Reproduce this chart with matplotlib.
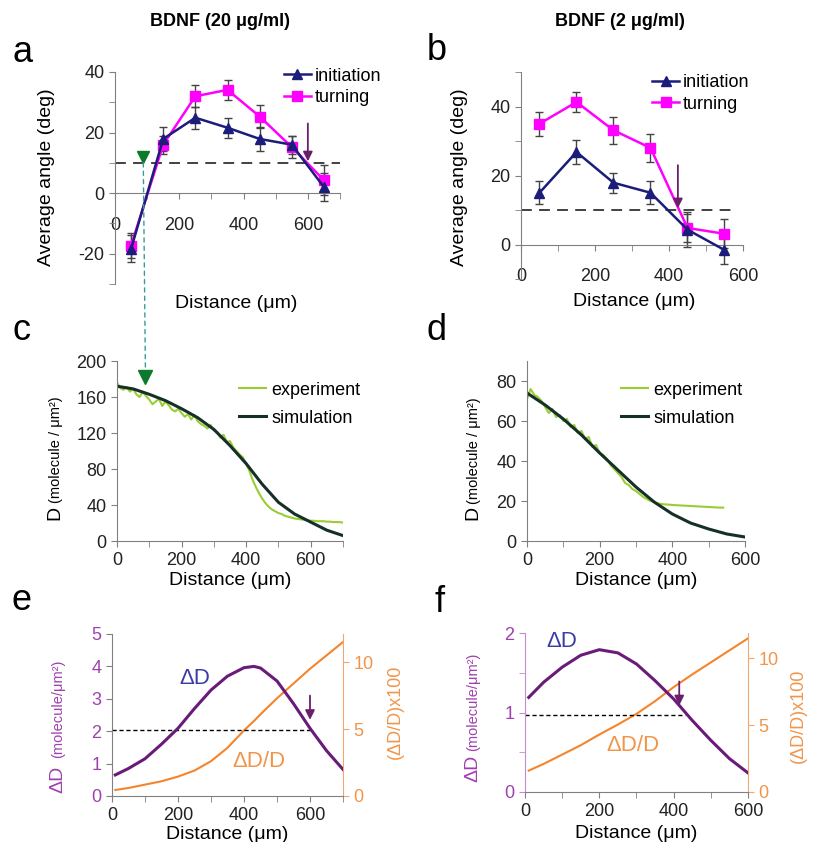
import matplotlib.pyplot as plt
from matplotlib.patches import ConnectionPatch

plt.rcParams['font.family'] = ['Liberation Sans', 'DejaVu Sans']
plt.rcParams['font.size'] = 13
plt.rcParams['axes.unicode_minus'] = False

# ---- panel a / b : average turning angle per distance bin ----
bins_a = [50, 150, 250, 350, 450, 550, 650]
init_a = [-18.4, 17.9, 24.9, 21.6, 17.9, 16.0, 2.0]
init_a_err = [4.5, 4.0, 3.7, 3.3, 3.9, 3.0, 4.5]
turn_a = [-17.3, 16.0, 32.0, 34.1, 25.3, 15.2, 4.3]
turn_a_err = [4.0, 3.0, 3.7, 3.2, 3.9, 3.6, 5.0]

bins_b = [50, 150, 250, 350, 450, 550]
init_b = [15.0, 26.8, 17.9, 15.0, 4.3, -1.6]
init_b_err = [3.4, 3.5, 2.9, 3.4, 5.0, 4.0]
turn_b = [35.0, 41.3, 33.1, 28.0, 4.8, 3.1]
turn_b_err = [3.5, 2.9, 4.0, 4.0, 4.0, 4.2]

threshold_angle = 10
start_x = 88          # green triangle (start of turning)
arrow_a = 600
arrow_b = 424

# ---- panel c / d : concentration profiles ----
exp_c_x = list(range(0, 701, 10))
exp_c = [176, 170, 168, 171, 166, 169, 163, 160, 166, 161,
         157, 152, 155, 158, 150, 155, 151, 146, 144, 147,
         142, 138, 141, 135, 140, 133, 130, 128, 125, 129,
         123, 121, 115, 118, 110, 111, 104, 100, 96, 93,
         86, 78, 68, 60, 53, 47, 42, 38, 35, 33,
         31, 30, 28, 27, 26, 25, 24.5, 24, 23.5, 23,
         22.5, 22.5, 22, 22, 22, 21.5, 21.5, 21, 21, 21, 20.5]
sim_c_x = [0, 50, 100, 150, 200, 250, 300, 350, 400, 450, 500, 550, 600, 650, 700]
sim_c = [172, 169, 163, 156, 147, 137, 124, 106, 86, 63, 43, 30, 21, 12, 6]

exp_d_x = list(range(0, 541, 10))
exp_d = [71, 76, 73, 72, 70, 67, 64, 66, 62, 63,
         60, 61, 57, 58, 54, 55, 51, 52, 47, 48,
         44, 43, 41, 38, 36, 34, 32, 29, 28, 26,
         25, 23.5, 22, 21, 20, 19.5, 18.8, 18.5, 18.3, 18.2,
         18, 17.9, 17.8, 17.7, 17.6, 17.5, 17.4, 17.3, 17.2, 17.1,
         17, 16.9, 16.8, 16.7, 16.7]
sim_d_x = [0, 50, 100, 150, 200, 250, 300, 350, 400, 450, 500, 550, 600]
sim_d = [74, 68, 61, 53, 44, 35.5, 27, 19.5, 13.5, 9, 6, 3.5, 2]

# ---- panel e / f : gradient ----
dist_e = [10, 50, 100, 150, 200, 250, 300, 350, 400, 430, 450, 500, 550, 600, 650, 700]
dD_e = [0.65, 0.85, 1.15, 1.6, 2.09, 2.7, 3.27, 3.7, 3.96, 4.0, 3.95, 3.55, 2.85, 2.09, 1.4, 0.82]
rel_e = [0.45, 0.6, 0.85, 1.1, 1.45, 1.9, 2.6, 3.6, 4.9, 5.6, 6.1, 7.3, 8.4, 9.5, 10.5, 11.5]

dist_f = [10, 50, 100, 150, 200, 250, 300, 350, 400, 450, 500, 550, 600]
dD_f = [1.19, 1.38, 1.57, 1.72, 1.79, 1.75, 1.61, 1.40, 1.17, 0.9, 0.65, 0.42, 0.24]
rel_f = [1.6, 2.1, 2.8, 3.5, 4.3, 5.05, 5.85, 6.8, 7.85, 8.8, 9.7, 10.6, 11.5]

dD_threshold_e = 2.05
dD_threshold_f = 0.97
arrow_e = 600
arrow_f = 415

navy = '#1c1c7a'
magenta = '#ff00ff'
green = '#0b7a2a'
arrow_col = '#6a1f6a'
exp_col = '#9acd32'
sim_col = '#15302a'
purple = '#6a1b7a'
purple_lt = '#a040b0'
orange = '#f5842a'
orange_lt = '#f0954a'
grey = '#808080'

W, H = 820, 842
fig = plt.figure(figsize=(W / 100, H / 100), dpi=100)


def box(l, r, t, b):
    return [l / W, 1 - b / H, (r - l) / W, (b - t) / H]


def style(ax):
    ax.spines['top'].set_visible(False)
    ax.spines['right'].set_visible(False)
    for s in ['left', 'bottom']:
        ax.spines[s].set_color(grey)
    ax.tick_params(which='both', colors=grey, labelcolor='#222222', length=4, labelsize=13)


ax_a = fig.add_axes(box(115, 340, 72, 284))
ax_b = fig.add_axes(box(521, 743, 72, 279))
ax_c = fig.add_axes(box(117, 343, 361, 541))
ax_d = fig.add_axes(box(527, 745, 361, 541))
ax_e = fig.add_axes(box(112, 343, 634, 796))
ax_f = fig.add_axes(box(525, 748, 633, 792))

# a and b
for ax, bins, ini, ini_e, trn, trn_e, xmax, ylim, arr, anchor in [
        (ax_a, bins_a, init_a, init_a_err, turn_a, turn_a_err, 700, (-30, 40), arrow_a, (0.75, 1.02)),
        (ax_b, bins_b, init_b, init_b_err, turn_b, turn_b_err, 600, (-10, 50), arrow_b, (0.59, 0.99))]:
    style(ax)
    ax.errorbar(bins, trn, yerr=trn_e, fmt='none', ecolor='#444444', elinewidth=1,
                capsize=3, zorder=2)
    ax.errorbar(bins, ini, yerr=ini_e, fmt='none', ecolor='#444444', elinewidth=1,
                capsize=3, zorder=2)
    l_t, = ax.plot(bins, trn, color=magenta, marker='s', ms=7, lw=1.8, zorder=3)
    l_i, = ax.plot(bins, ini, color=navy, marker='^', ms=7, lw=1.8, zorder=4)
    ax.set_xlim(0, xmax)
    ax.set_ylim(*ylim)
    ax.spines['bottom'].set_position(('data', 0))
    ax.set_xticks([0, 200, 400, 600])
    ax.set_xticks(range(100, xmax + 1, 200), minor=True)
    ax.tick_params(axis='x', which='both', pad=13)
    ax.set_xlabel('Distance (μm)', fontsize=14)
    ax.set_ylabel('Average angle (deg)', fontsize=14)
    ax.annotate('', xy=(arr, threshold_angle + 0.5), xytext=(arr, threshold_angle + 13),
                arrowprops=dict(arrowstyle='-|>', color=arrow_col, lw=1.3,
                                mutation_scale=14, shrinkA=0, shrinkB=0), zorder=5)
    ax.legend([l_i, l_t], ['initiation', 'turning'], loc='upper left', frameon=False,
              fontsize=13, handlelength=1.5, handletextpad=0.2, labelspacing=0.25,
              borderpad=0, borderaxespad=0, bbox_to_anchor=anchor)

ax_a.set_yticks([-20, 0, 20, 40])
ax_a.set_yticks([-30, -10, 10, 30], minor=True)
ax_a.axhline(threshold_angle, color='#333333', lw=1.3, dashes=(6, 4), zorder=2)
ax_a.plot(start_x, threshold_angle + 1.8, marker='v', color=green, ms=9, zorder=6)
ax_a.xaxis.set_label_coords(0.54, -0.05)
ax_a.yaxis.set_label_coords(-0.267, 0.505)

ax_b.set_yticks([0, 20, 40])
ax_b.set_yticks([-10, 10, 30, 50], minor=True)
ax_b.axhline(threshold_angle, xmax=0.95, color='#333333', lw=1.3, dashes=(6, 4), zorder=2)
ax_b.xaxis.set_label_coords(0.51, -0.066)
ax_b.yaxis.set_label_coords(-0.24, 0.49)

# c and d
for ax, ex, ey, sx, sy, xmax, ylim, yt, anchor in [
        (ax_c, exp_c_x, exp_c, sim_c_x, sim_c, 700, (0, 200), range(0, 201, 40), (0.54, 0.885)),
        (ax_d, exp_d_x, exp_d, sim_d_x, sim_d, 600, (0, 90), range(0, 81, 20), (0.43, 0.885))]:
    style(ax)
    ax.plot(ex, ey, color=exp_col, lw=1.5, label='experiment')
    ax.plot(sx, sy, color=sim_col, lw=2.2, label='simulation')
    ax.set_xlim(0, xmax)
    ax.set_ylim(*ylim)
    ax.set_xticks([0, 200, 400, 600])
    ax.set_xticks(range(100, xmax + 1, 200), minor=True)
    ax.set_yticks(list(yt))
    ax.tick_params(axis='x', which='both', pad=4)
    ax.set_xlabel('Distance (μm)', fontsize=14)
    ax.xaxis.set_label_coords(0.5, -0.172)
    ax.legend(loc='upper left', frameon=False, fontsize=13, handlelength=1.5,
              handletextpad=0.3, labelspacing=0.6, borderpad=0, borderaxespad=0,
              bbox_to_anchor=anchor)

ax_c.plot(start_x, 182, marker='v', color=green, ms=10, zorder=6)
ax_c.text(-0.274, 0.156, 'D', rotation=90, fontsize=14, ha='center', va='center',
          transform=ax_c.transAxes)
ax_c.text(-0.27, 0.51, '(molecule / μm²)', rotation=90, fontsize=10.5, ha='center',
          va='center', transform=ax_c.transAxes)
ax_d.text(-0.248, 0.156, 'D', rotation=90, fontsize=14, ha='center', va='center',
          transform=ax_d.transAxes)
ax_d.text(-0.244, 0.5, '(molecule / μm²)', rotation=90, fontsize=10.5, ha='center',
          va='center', transform=ax_d.transAxes)

con = ConnectionPatch(xyA=(start_x, threshold_angle), coordsA=ax_a.transData,
                      xyB=(start_x, 190), coordsB=ax_c.transData,
                      color='#3a9a9a', lw=1, linestyle=(0, (3, 3)))
fig.add_artist(con)

# e and f
for ax, dist, dD, rel, xmax, ymax, rmax, thr, thr_end, arr, lspine, pos in [
        (ax_e, dist_e, dD_e, rel_e, 700, 5, 12.1, dD_threshold_e, 600, arrow_e, grey,
         dict(dD=(252, 3.63), rel=(444, 1.06), yl=(-0.234, 0.105, 0.54), yr=(1.225, 0.52), xl=-0.185)),
        (ax_f, dist_f, dD_f, rel_f, 600, 2, 11.9, dD_threshold_f, 430, arrow_f, '#c48ccc',
         dict(dD=(98, 1.89), rel=(291, 0.59), yl=(-0.233, 0.15, 0.57), yr=(1.224, 0.48), xl=-0.205))]:
    style(ax)
    ax.spines['left'].set_color(lspine)
    ax.tick_params(axis='y', which='both', labelcolor=purple_lt, colors=lspine)
    ax2 = ax.twinx()
    ax2.spines['top'].set_visible(False)
    ax2.spines['left'].set_visible(False)
    ax2.spines['bottom'].set_visible(False)
    ax2.spines['right'].set_color('#f4a672')
    ax2.tick_params(axis='y', colors='#f4a672', labelcolor=orange_lt, length=4, labelsize=13)
    ax2.plot(dist, rel, color=orange, lw=1.5)
    ax2.set_ylim(0, rmax)
    ax2.set_yticks([0, 5, 10])
    ax.plot(dist, dD, color=purple, lw=2.2, zorder=4)
    ax.set_zorder(ax2.get_zorder() + 1)
    ax.patch.set_visible(False)
    ax.set_xlim(0, xmax)
    ax.set_ylim(0, ymax)
    ax.set_xticks([0, 200, 400, 600])
    ax.set_xticks(range(100, xmax + 1, 200), minor=True)
    ax.tick_params(axis='x', which='both', pad=4)
    ax.hlines(thr, 0, thr_end, color='black', lw=1, linestyles=(0, (3, 2)))
    ax.annotate('', xy=(arr, thr + 0.06 * ymax), xytext=(arr, thr + 0.21 * ymax),
                arrowprops=dict(arrowstyle='-|>', color=arrow_col, lw=1.3,
                                mutation_scale=14, shrinkA=0, shrinkB=0), zorder=5)
    ax.text(*pos['dD'], 'ΔD', color='#3c3ca8', fontsize=16, ha='center', va='center')
    ax.text(*pos['rel'], 'ΔD/D', color=orange_lt, fontsize=16, ha='center', va='center')
    ax.set_xlabel('Distance (μm)', fontsize=14)
    ax.xaxis.set_label_coords(0.5, pos['xl'])
    xl, y1, y2 = pos['yl']
    ax.text(xl, y1, 'ΔD', rotation=90, fontsize=14, color=purple_lt, ha='center',
            va='center', transform=ax.transAxes)
    ax.text(xl, y2, '(molecule/μm²)', rotation=90, fontsize=10.5, color=purple_lt,
            ha='center', va='center', transform=ax.transAxes)
    ax.text(*pos['yr'], '(ΔD/D)x100', rotation=90, fontsize=13, color=orange_lt,
            ha='center', va='center', transform=ax.transAxes)

ax_e.set_yticks([0, 1, 2, 3, 4, 5])
ax_f.set_yticks([0, 1, 2])
ax_f.set_yticks([0.5, 1.5], minor=True)

# titles and panel letters
fig.text(220 / W, 1 - 22 / H, 'BDNF (20 μg/ml)', fontsize=13, fontweight='bold',
         ha='center', va='center')
fig.text(620 / W, 1 - 22 / H, 'BDNF (2 μg/ml)', fontsize=13, fontweight='bold',
         ha='center', va='center')
for letter, x, y in [('a', 23, 53), ('b', 437, 50), ('c', 22, 330), ('d', 437, 330),
                     ('e', 22, 600), ('f', 440, 603)]:
    fig.text(x / W, 1 - y / H, letter, fontsize=26, ha='center', va='center')

fig.savefig('out.png', dpi=100)
